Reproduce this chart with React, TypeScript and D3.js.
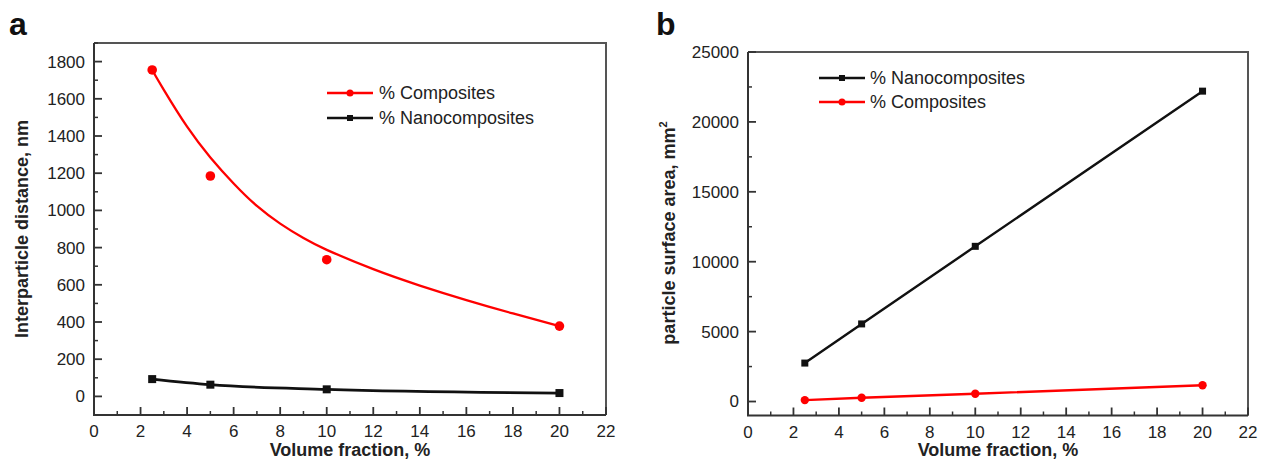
import React from 'react';
import * as d3 from 'd3';

// volume fraction, %
const fractions = [2.5, 5, 10, 20];

// panel a: interparticle distance, nm
const distComposites = [1755, 1185, 735, 378];
const distNano = [93, 63, 38, 18];
// fitted curve of the composites series
const fitX = [2.5, 3, 4, 5, 6, 7, 8, 9, 10, 12, 14, 16, 18, 20];
const fitComposites = [1755, 1648, 1450, 1285, 1145, 1024, 929, 851, 788, 684, 596, 518, 446, 378];

// panel b: particle surface area, mm2
const areaNano = [2750, 5550, 11100, 22200];
const areaComposites = [100, 270, 560, 1160];

const xTickLabels = [0, 2, 4, 6, 8, 10, 12, 14, 16, 18, 20, 22];
const xMinorTicks = [1, 3, 5, 7, 9, 11, 13, 15, 17, 19, 21];
const yTicksA = [0, 200, 400, 600, 800, 1000, 1200, 1400, 1600, 1800];
const yMinorA = [-100, 100, 300, 500, 700, 900, 1100, 1300, 1500, 1700, 1900];
const yTicksB = [0, 5000, 10000, 15000, 20000, 25000];
const yMinorB = [2500, 7500, 12500, 17500, 22500];

const FONT = '"Liberation Sans", Arial, sans-serif';

type Scale = d3.ScaleLinear<number, number>;

function Frame({ x, y, yTicks, yMinor }: { x: Scale; y: Scale; yTicks: number[]; yMinor: number[] }) {
  const [x0, x1] = x.range();
  const [y0, y1] = y.range(); // y0 bottom, y1 top
  return (
    <g>
      {/* top & right border */}
      <path d={`M${x0},${y1}H${x1}V${y0}`} fill="none" stroke="#555" strokeWidth={2} />
      {/* left & bottom axes */}
      <path d={`M${x0},${y1}V${y0}H${x1}`} fill="none" stroke="#333" strokeWidth={2} />
      {xTickLabels.map((t) => (
        <g key={'xt' + t}>
          <line x1={x(t)} x2={x(t)} y1={y0} y2={y0 - 8} stroke="#333" strokeWidth={1.8} />
          <text x={x(t)} y={y0 + 22} textAnchor="middle" fontSize={17} fill="#222" fontFamily={FONT}>
            {t}
          </text>
        </g>
      ))}
      {xMinorTicks.map((t) => (
        <line key={'xm' + t} x1={x(t)} x2={x(t)} y1={y0} y2={y0 - 4} stroke="#333" strokeWidth={1.5} />
      ))}
      {yTicks.map((t) => (
        <g key={'yt' + t}>
          <line x1={x0} x2={x0 + 8} y1={y(t)} y2={y(t)} stroke="#333" strokeWidth={1.8} />
          <text x={x0 - 9} y={y(t)} dy="0.35em" textAnchor="end" fontSize={17} fill="#222" fontFamily={FONT}>
            {t}
          </text>
        </g>
      ))}
      {yMinor.map((t) => (
        <line key={'ym' + t} x1={x0} x2={x0 + 4} y1={y(t)} y2={y(t)} stroke="#333" strokeWidth={1.5} />
      ))}
    </g>
  );
}

function Square({ cx, cy, s, fill }: { cx: number; cy: number; s: number; fill: string }) {
  return <rect x={cx - s / 2} y={cy - s / 2} width={s} height={s} fill={fill} />;
}

export default function App() {
  // panel a scales
  const xA = d3.scaleLinear().domain([0, 22]).range([94, 606]);
  const yA = d3.scaleLinear().domain([-100, 1900]).range([415, 43]);
  // panel b scales
  const xB = d3.scaleLinear().domain([0, 22]).range([748, 1248]);
  const yB = d3.scaleLinear().domain([-1000, 25000]).range([415.5, 52]);

  const fitLine = d3
    .line<number>()
    .x((_, i) => xA(fitX[i]))
    .y((d) => yA(d))
    .curve(d3.curveNatural);
  const nanoLineA = d3
    .line<number>()
    .x((_, i) => xA(fractions[i]))
    .y((d) => yA(d))
    .curve(d3.curveMonotoneX);
  const lineB = d3
    .line<number>()
    .x((_, i) => xB(fractions[i]))
    .y((d) => yB(d));

  return (
    <svg
      width={1273}
      height={461}
      style={{ position: 'absolute', left: 0, top: 0, background: '#fff' }}
      fontFamily={FONT}
    >
      {/* ---------- panel a ---------- */}
      <text x={9} y={35} fontSize={32} fontWeight="bold" fill="#111">a</text>
      <Frame x={xA} y={yA} yTicks={yTicksA} yMinor={yMinorA} />
      <path d={fitLine(fitComposites) || ''} fill="none" stroke="#ff0000" strokeWidth={2.3} />
      {distComposites.map((d, i) => (
        <circle key={'ca' + i} cx={xA(fractions[i])} cy={yA(d)} r={4.8} fill="#ff0000" />
      ))}
      <path d={nanoLineA(distNano) || ''} fill="none" stroke="#111" strokeWidth={2.8} />
      {distNano.map((d, i) => (
        <Square key={'na' + i} cx={xA(fractions[i])} cy={yA(d)} s={8} fill="#111" />
      ))}
      {/* legend a */}
      <line x1={327} x2={373} y1={93} y2={93} stroke="#ff0000" strokeWidth={2.3} />
      <circle cx={350} cy={93} r={3.5} fill="#ff0000" />
      <text x={379} y={93} dy="0.35em" fontSize={18} fill="#222">% Composites</text>
      <line x1={327} x2={373} y1={118} y2={118} stroke="#111" strokeWidth={2.3} />
      <Square cx={350} cy={118} s={6} fill="#111" />
      <text x={379} y={118} dy="0.35em" fontSize={18} fill="#222">% Nanocomposites</text>
      <text x={350} y={456} textAnchor="middle" fontSize={18} fontWeight="bold" fill="#222">
        Volume fraction, %
      </text>
      <text
        transform="translate(28,229) rotate(-90)"
        textAnchor="middle"
        fontSize={18}
        fontWeight="bold"
        fill="#222"
      >
        Interparticle distance, nm
      </text>

      {/* ---------- panel b ---------- */}
      <text x={656} y={35} fontSize={32} fontWeight="bold" fill="#111">b</text>
      <Frame x={xB} y={yB} yTicks={yTicksB} yMinor={yMinorB} />
      <path d={lineB(areaNano) || ''} fill="none" stroke="#111" strokeWidth={2.4} />
      {areaNano.map((d, i) => (
        <Square key={'nb' + i} cx={xB(fractions[i])} cy={yB(d)} s={7} fill="#111" />
      ))}
      <path d={lineB(areaComposites) || ''} fill="none" stroke="#ff0000" strokeWidth={2.4} />
      {areaComposites.map((d, i) => (
        <circle key={'cb' + i} cx={xB(fractions[i])} cy={yB(d)} r={4.2} fill="#ff0000" />
      ))}
      {/* legend b */}
      <line x1={819} x2={865} y1={78} y2={78} stroke="#111" strokeWidth={2.3} />
      <Square cx={842} cy={78} s={6} fill="#111" />
      <text x={870} y={78} dy="0.35em" fontSize={18} fill="#222">% Nanocomposites</text>
      <line x1={819} x2={865} y1={102} y2={102} stroke="#ff0000" strokeWidth={2.3} />
      <circle cx={842} cy={102} r={3.5} fill="#ff0000" />
      <text x={870} y={102} dy="0.35em" fontSize={18} fill="#222">% Composites</text>
      <text x={998} y={456} textAnchor="middle" fontSize={18} fontWeight="bold" fill="#222">
        Volume fraction, %
      </text>
      <text
        transform="translate(675,233) rotate(-90)"
        textAnchor="middle"
        fontSize={18}
        fontWeight="bold"
        fill="#222"
      >
        particle surface area, mm
        <tspan fontSize={11} dy={-8}>2</tspan>
      </text>
    </svg>
  );
}
